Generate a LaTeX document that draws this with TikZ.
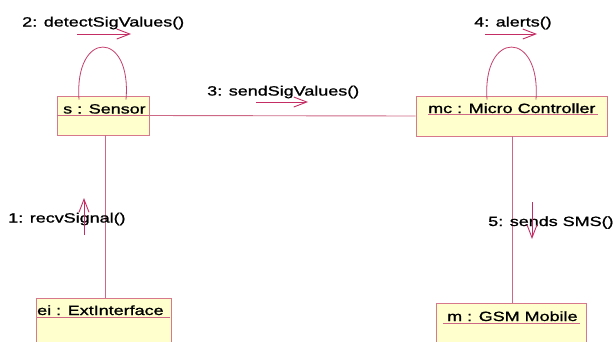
\documentclass[tikz,border=0pt]{standalone}
\usepackage{fontspec}
\setmainfont[FakeStretch=1.34,FakeBold=1.1]{Liberation Sans}
\usetikzlibrary{arrows.meta,calc}
\definecolor{linkcol}{RGB}{205,105,135}
\definecolor{msgcol}{RGB}{195,45,100}
\definecolor{boxfill}{RGB}{255,255,206}
\definecolor{boxedge}{RGB}{215,120,140}
\tikzset{
  objbox/.style={draw=boxedge, fill=boxfill, line width=0.9pt, inner sep=0pt},
  objname/.style={anchor=base west, inner sep=0pt, font=\fontsize{13.4}{15}\selectfont},
  msglabel/.style={anchor=base west, inner sep=0pt, font=\fontsize{13.4}{15}\selectfont},
  link/.style={draw=linkcol, line width=0.9pt},
  uline/.style={draw=linkcol, line width=0.8pt},
  msgarrow/.style={draw=msgcol, line width=0.9pt, -{Straight Barb[length=13pt,width=10pt]}},
  selfloop/.style={draw=msgcol!70!linkcol, line width=0.8pt}
}
\begin{document}
\begin{tikzpicture}[x=1pt,y=-1pt]
\clip (0,0) rectangle (613,341);
\fill[white] (0,0) rectangle (613,341);

% object boxes
\node[objbox, minimum width=92pt, minimum height=39pt] (s)  at (103,115.5) {};
\node[objbox, minimum width=191pt, minimum height=40pt] (mc) at (511.5,116) {};
\node[objbox, minimum width=135pt, minimum height=62pt] (ei) at (103.5,329) {};
\node[objbox, minimum width=150pt, minimum height=57pt] (m)  at (511,331.5) {};

% object names (underlined)
\node[objname] (sname)  at (63,113.5) {s : Sensor};
\node[objname] (mcname) at (428,113) {mc : Micro Controller};
\node[objname] (einame) at (37,315) {ei : ExtInterface};
\node[objname] (mname)  at (447,321) {m : GSM Mobile};
\draw[uline] (s.west |- 0,115) -- (s.east |- 0,115);
\draw[uline] (428,114.5) -- (598,114.5);
\draw[uline] (37,317) -- (170,317);
\draw[uline] (443,323) -- (580,323);

% links between objects
\draw[link] (s.east) -- (mc.west);
\draw[link] (s.south -| 105,0) -- (ei.north -| 105,0);
\draw[link] (mc.south -| 512,0) -- (m.north -| 512,0);

% self links
\draw[selfloop] ($(s.north)+(-24,4)$) .. controls ($(s.north)+(-29,-66)$) and ($(s.north)+(29,-66)$) .. ($(s.north)+(23,4)$);
\draw[selfloop] ($(mc.north)+(-24.5,4)$) .. controls ($(mc.north)+(-29.5,-66)$) and ($(mc.north)+(29.5,-66)$) .. ($(mc.north)+(24.5,4)$);

% messages
\node[msglabel] (l2) at (22,26.5) {2: detectSigValues()};
\coordinate (a2s) at (77,34);  \coordinate (a2e) at (131,34);
\draw[msgarrow] (a2s) -- (a2e);

\node[msglabel] (l4) at (474,26.5) {4: alerts()};
\coordinate (a4s) at (485,34); \coordinate (a4e) at (537,34);
\draw[msgarrow] (a4s) -- (a4e);

\node[msglabel] (l3) at (207,95.5) {3: sendSigValues()};
\coordinate (a3s) at (256,102); \coordinate (a3e) at (308,102);
\draw[msgarrow] (a3s) -- (a3e);

\node[msglabel] (l1) at (8,222.5) {1: recvSignal()};
\coordinate (a1s) at (84,235); \coordinate (a1e) at (84,198);
\draw[msgarrow] (a1s) -- (a1e);

\node[msglabel] (l5) at (488,226) {5: sends SMS()};
\coordinate (a5s) at (532,202); \coordinate (a5e) at (532,239);
\draw[msgarrow] (a5s) -- (a5e);
\end{tikzpicture}
\end{document}
